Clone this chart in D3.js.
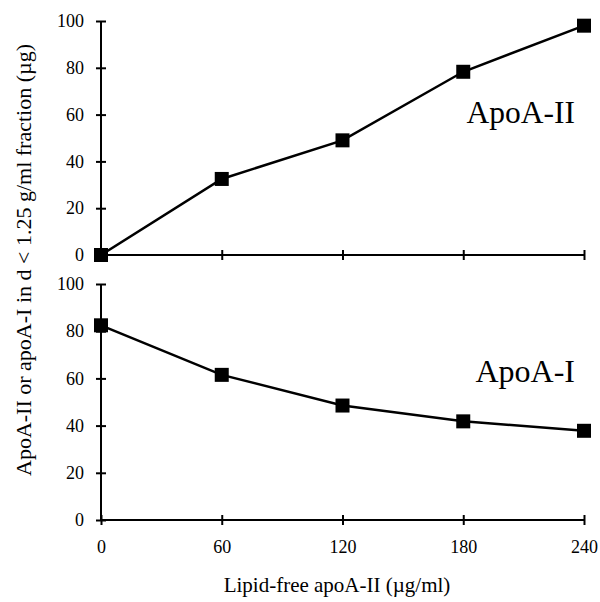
<!DOCTYPE html>
<html><head><meta charset="utf-8">
<script src="https://cdn.jsdelivr.net/npm/d3@7"></script>
<style>body{margin:0;background:#fff}svg{display:block}</style>
</head><body>
<script>
const xValues = [0, 60, 120, 180, 240];
const apoA2 = [0, 32.5, 49, 78.3, 98];
const apoA1 = [82.5, 61.5, 48.5, 41.8, 37.8];
const xTicks = [0, 60, 120, 180, 240];
const yTicks = [0, 20, 40, 60, 80, 100];
const seriesLabels = ["ApoA-II", "ApoA-I"];

const FONT = "'Liberation Serif', 'DejaVu Serif', serif";
const W = 600, H = 602;
const svg = d3.select("body").append("svg").attr("width", W).attr("height", H)
  .attr("font-family", FONT);

const x = d3.scaleLinear().domain([0, 240]).range([101, 584]);
const yTop = d3.scaleLinear().domain([0, 100]).range([255, 21]);
const yBot = d3.scaleLinear().domain([0, 100]).range([520, 284]);

function drawY(scale) {
  const g = svg.append("g").attr("transform", `translate(${x(0)},0)`)
    .call(d3.axisLeft(scale).tickValues(yTicks).tickSize(5).tickSizeOuter(0).tickPadding(12));
  g.attr("font-family", FONT).attr("font-size", 18);
  g.select(".domain").remove();
  g.selectAll(".tick line").attr("x1", -5).attr("x2", 5).attr("stroke-width", 2);
  g.append("line").attr("x1", 0).attr("x2", 0).attr("y1", scale(100)).attr("y2", scale(0)).attr("stroke", "#000").attr("stroke-width", 2);
}
function drawX(scale, labels) {
  const g = svg.append("g").attr("transform", `translate(0,${scale(0)})`)
    .call(d3.axisBottom(x).tickValues(xTicks).tickSize(5).tickSizeOuter(0).tickPadding(15));
  g.attr("font-family", FONT).attr("font-size", 18);
  g.select(".domain").remove();
  g.selectAll(".tick line").attr("y1", -5).attr("y2", 5).attr("stroke-width", 2);
  if (!labels) g.selectAll(".tick text").remove();
  g.append("line").attr("x1", x(0)).attr("x2", x(240)).attr("y1", 0).attr("y2", 0).attr("stroke", "#000").attr("stroke-width", 2);
}
drawY(yTop); drawY(yBot);
drawX(yTop, false); drawX(yBot, true);

function drawSeries(vals, scale) {
  const data = xValues.map((v, i) => [v, vals[i]]);
  svg.append("path").datum(data)
    .attr("d", d3.line().x(d => x(d[0])).y(d => scale(d[1])))
    .attr("fill", "none").attr("stroke", "#000").attr("stroke-width", 2.5);
  const s = 14;
  svg.append("g").selectAll("rect").data(data).join("rect")
    .attr("x", d => x(d[0]) - s / 2).attr("y", d => scale(d[1]) - s / 2)
    .attr("width", s).attr("height", s).attr("fill", "#000");
}
drawSeries(apoA2, yTop);
drawSeries(apoA1, yBot);

svg.append("text").attr("x", 575).attr("y", 123).attr("text-anchor", "end")
  .attr("font-size", 31.5).text(seriesLabels[0]);
svg.append("text").attr("x", 575).attr("y", 382).attr("text-anchor", "end")
  .attr("font-size", 32).text(seriesLabels[1]);

svg.append("text").attr("transform", "translate(31,260) rotate(-90)").attr("text-anchor", "middle")
  .attr("font-size", 22).text("ApoA-II or apoA-I in d < 1.25 g/ml fraction (\u00b5g)");
svg.append("text").attr("x", 337).attr("y", 592).attr("text-anchor", "middle")
  .attr("font-size", 21).text("Lipid-free apoA-II (\u00b5g/ml)");
</script>
</body></html>
